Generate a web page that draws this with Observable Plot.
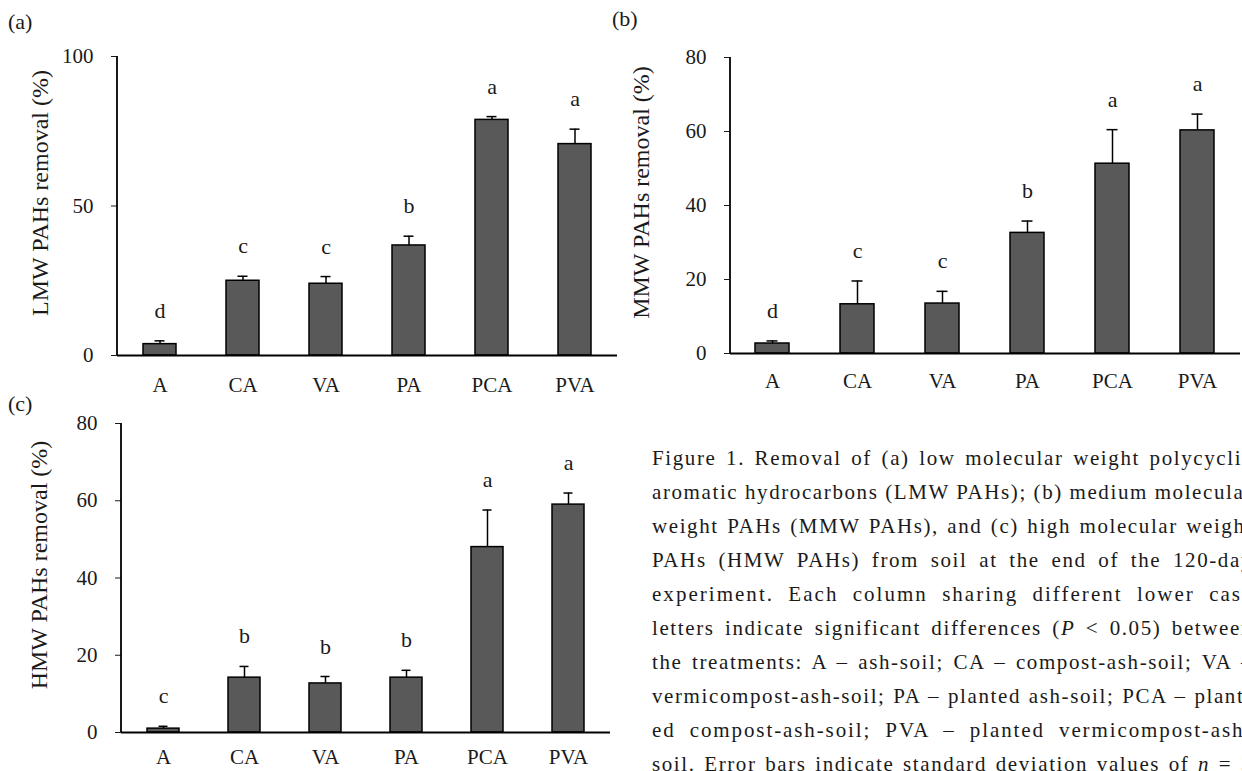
<!DOCTYPE html>
<html>
<head>
<meta charset="utf-8">
<script src="https://cdn.jsdelivr.net/npm/d3@7"></script>
<script src="https://cdn.jsdelivr.net/npm/@observablehq/plot@0.6"></script>
<style>
  html, body { margin: 0; padding: 0; background: #fff; }
  body { width: 1242px; height: 771px; overflow: hidden; position: relative; font-family: "Liberation Serif", "DejaVu Serif", serif; color: #1a1a1a; }
  .panel { position: absolute; }
  .tag { position: absolute; font-size: 22px; line-height: 22px; }
  #caption { position: absolute; left: 652px; top: 441px; width: 640px; font-size: 21px; line-height: 34px; }
  #caption div { height: 34px; white-space: pre; }
  #caption span { display: inline-block; white-space: pre; letter-spacing: 1.6px; }
</style>
</head>
<body>
<div class="tag" style="left:8px;top:11px">(a)</div>
<div class="tag" style="left:612px;top:8px">(b)</div>
<div class="tag" style="left:8px;top:393px">(c)</div>
<div id="pa" class="panel" style="left:0px;top:0px"></div>
<div id="pb" class="panel" style="left:600px;top:0px"></div>
<div id="pc" class="panel" style="left:0px;top:400px"></div>
<div id="caption"></div>
<script>
const categories = ["A", "CA", "VA", "PA", "PCA", "PVA"];

const lmwMean = [3.8, 25.0, 24.0, 36.8, 78.8, 70.7];
const lmwSd = [1.1, 1.5, 2.4, 3.1, 1.1, 5.0];
const lmwLetters = ["d", "c", "c", "b", "a", "a"];

const mmwMean = [2.7, 13.3, 13.5, 32.6, 51.3, 60.3];
const mmwSd = [0.7, 6.3, 3.3, 3.2, 9.2, 4.4];
const mmwLetters = ["d", "c", "c", "b", "a", "a"];

const hmwMean = [1.0, 14.2, 12.7, 14.2, 48.0, 59.0];
const hmwSd = [0.6, 2.9, 1.8, 1.9, 9.6, 3.0];
const hmwLetters = ["c", "b", "b", "b", "a", "a"];

const lmwTicks = [0, 50, 100];
const mmwTicks = [0, 20, 40, 60, 80];
const hmwTicks = [0, 20, 40, 60, 80];

const captionLines = [
  "Figure 1. Removal of (a) low molecular weight polycyclic",
  "aromatic hydrocarbons (LMW PAHs); (b) medium molecular",
  "weight PAHs (MMW PAHs), and (c) high molecular weight",
  "PAHs (HMW PAHs) from soil at the end of the 120-day",
  "experiment. Each column sharing different lower case",
  "letters indicate significant differences (<i>P</i> &lt; 0.05) between",
  "the treatments: A – ash-soil; CA – compost-ash-soil; VA –",
  "vermicompost-ash-soil; PA – planted ash-soil; PCA – plant-",
  "ed compost-ash-soil; PVA – planted vermicompost-ash-",
  "soil. Error bars indicate standard deviation values of <i>n</i> = 3"
];

function yAxisLine(index, scales, values, dims) {
  const ns = "http://www.w3.org/2000/svg";
  const l = document.createElementNS(ns, "line");
  l.setAttribute("x1", dims.marginLeft);
  l.setAttribute("x2", dims.marginLeft);
  l.setAttribute("y1", dims.marginTop);
  l.setAttribute("y2", dims.height - dims.marginBottom);
  l.setAttribute("stroke", "#000");
  l.setAttribute("stroke-width", 1.8);
  return l;
}

function panel(o) {
  const rows = categories.map((c, i) => ({cat: c, mean: o.mean[i], top: o.mean[i] + o.sd[i], letter: o.letters[i]}));
  return Plot.plot({
    width: o.width, height: o.height,
    marginTop: o.mt, marginBottom: o.mb, marginLeft: o.ml, marginRight: o.mr,
    style: {fontFamily: "'Liberation Serif', serif", fontSize: "21px", background: "transparent", color: "#1a1a1a", overflow: "visible"},
    x: {domain: categories, paddingInner: 0.6, paddingOuter: 0.3, label: null, tickSize: 0, tickPadding: o.xPad},
    y: {domain: o.domain, ticks: o.ticks, label: null, tickSize: 6, tickPadding: 18},
    marks: [
      Plot.barY(rows, {x: "cat", y: "mean", fill: "#595959", stroke: "#000", strokeWidth: 1.5}),
      Plot.ruleX(rows, {x: "cat", y1: "mean", y2: "top", stroke: "#000", strokeWidth: 1.5}),
      Plot.tickY(rows, {x: "cat", y: "top", stroke: "#000", strokeWidth: 1.5, insetLeft: 11.5, insetRight: 11.5}),
      Plot.text(rows, {x: "cat", y: "top", text: "letter", dy: -30, lineAnchor: "middle", fontSize: 22, fill: "#1a1a1a"}),
      Plot.ruleY([0], {stroke: "#000", strokeWidth: 1.8}),
      yAxisLine,
      Plot.text([o.title], {frameAnchor: "left", rotate: -90, dx: o.titleDx, dy: -13, fontSize: 24, lineAnchor: "middle", textAnchor: "middle", fill: "#1a1a1a"})
    ]
  });
}

document.getElementById("pa").append(panel({
  mean: lmwMean, sd: lmwSd, letters: lmwLetters, domain: [0, 100], ticks: lmwTicks,
  title: "LMW PAHs removal (%)", width: 620, height: 410, mt: 56, mb: 55, ml: 117, mr: 3, xPad: 22, titleDx: -77
}));
document.getElementById("pb").append(panel({
  mean: mmwMean, sd: mmwSd, letters: mmwLetters, domain: [0, 80], ticks: mmwTicks,
  title: "MMW PAHs removal (%)", width: 642, height: 400, mt: 57, mb: 47, ml: 130, mr: 2, xPad: 20, titleDx: -89
}));
document.getElementById("pc").append(panel({
  mean: hmwMean, sd: hmwSd, letters: hmwLetters, domain: [0, 80], ticks: hmwTicks,
  title: "HMW PAHs removal (%)", width: 620, height: 371, mt: 23, mb: 39, ml: 121, mr: 10, xPad: 17, titleDx: -82
}));

// caption: justify each line manually to the column width
const colWidth = 601;
const cap = document.getElementById("caption");
for (const line of captionLines) {
  const d = document.createElement("div");
  const s = document.createElement("span");
  s.innerHTML = line;
  d.append(s);
  cap.append(d);
  const natural = s.getBoundingClientRect().width;
  const text = s.textContent;
  const spaces = (text.match(/ /g) || []).length;
  const extra = colWidth - natural;
  let ws = spaces ? Math.min(extra / spaces, 7) : 0;
  if (extra < 0) ws = extra / Math.max(spaces, 1);
  const rest = extra - ws * spaces;
  const ls = 1.6 + (rest > 0 ? rest / (text.length - 1) : 0);
  s.style.wordSpacing = ws + "px";
  s.style.letterSpacing = ls + "px";
}
</script>
</body>
</html>
